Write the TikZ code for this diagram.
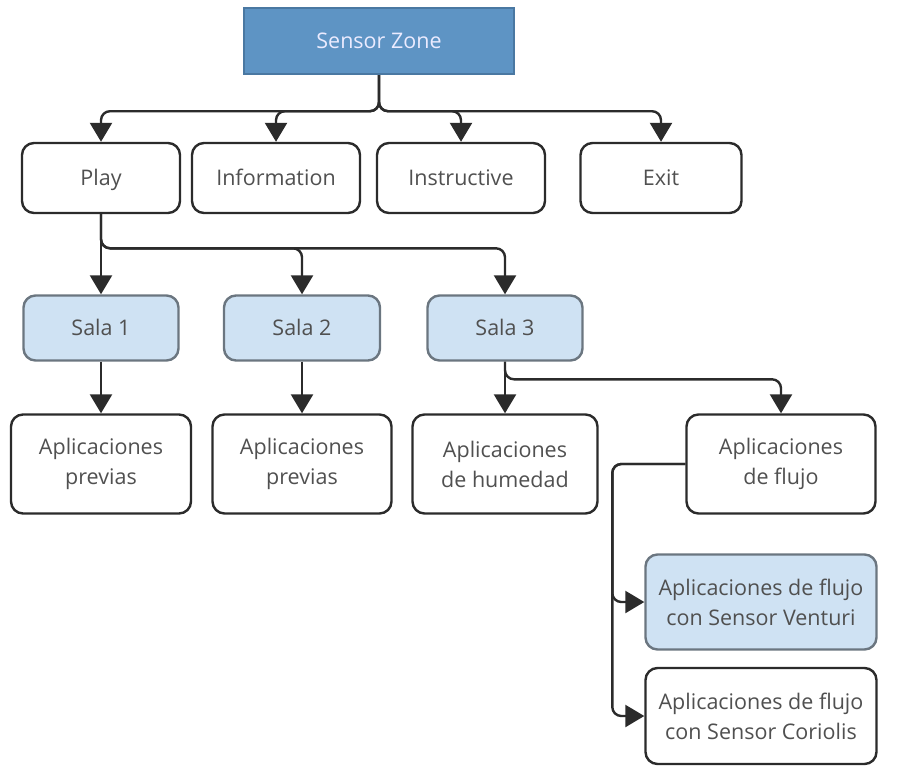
\documentclass[tikz,border=0pt]{standalone}
\usepackage{fontspec}
\setmainfont{Open Sans}
\usetikzlibrary{arrows.meta,calc}
\definecolor{szfill}{HTML}{5E94C4}
\definecolor{szdraw}{HTML}{4A78A2}
\definecolor{lbfill}{HTML}{CFE2F3}
\definecolor{lbdraw}{HTML}{6B7680}
\definecolor{txt}{HTML}{505050}
\definecolor{ln}{HTML}{2B2B2B}
\begin{document}
\begin{tikzpicture}[x=1pt,y=-1pt,
  base/.style={draw=ln,line width=2.4pt,rounded corners=12pt,align=center,
    text=txt,font=\fontsize{21.5}{30}\selectfont,inner sep=0pt},
  wbox/.style={base,fill=white},
  bbox/.style={base,fill=lbfill,draw=lbdraw},
  topbox/.style={base,fill=szfill,draw=szdraw,rounded corners=0pt,text=white!92!blue},
  single/.style={text height=15.5pt,text depth=0pt},
  arr/.style={draw=ln,line width=2.4pt,rounded corners=9pt,-{Triangle[width=22pt,length=19pt]}}]
\useasboundingbox (0,0) rectangle (907,766);
\node[topbox,single,minimum width=270pt,minimum height=66pt] (sz) at (379,41) {Sensor Zone};
\node[wbox,single,minimum width=158pt,minimum height=70pt] (play) at (101,178) {Play};
\node[wbox,single,minimum width=168pt,minimum height=70pt] (info) at (276,178) {Information};
\node[wbox,single,minimum width=168pt,minimum height=70pt] (inst) at (461,178) {Instructive};
\node[wbox,single,minimum width=161pt,minimum height=70pt] (exit) at (661,178) {Exit};
\node[bbox,single,minimum width=155pt,minimum height=65pt] (s1) at (101,328) {Sala 1};
\node[bbox,single,minimum width=156pt,minimum height=65pt] (s2) at (302,328) {Sala 2};
\node[bbox,single,minimum width=155pt,minimum height=65pt] (s3) at (505,328) {Sala 3};
\node[wbox,minimum width=180pt,minimum height=99pt] (ap1) at (101,464) {Aplicaciones\\previas};
\node[wbox,minimum width=179pt,minimum height=99pt] (ap2) at (302,464) {Aplicaciones\\previas};
\node[wbox,minimum width=185pt,minimum height=99pt] (hum) at (505,464) {Aplicaciones\\de humedad};
\node[wbox,minimum width=189pt,minimum height=99pt] (flu) at (781,464) {Aplicaciones\\de flujo};
\node[bbox,minimum width=231pt,minimum height=95pt] (ven) at (761,602) {Aplicaciones de flujo\\con Sensor Venturi};
\node[wbox,minimum width=231pt,minimum height=96pt] (cor) at (761,716) {Aplicaciones de flujo\\con Sensor Coriolis};
% top level
\coordinate (j1) at ($(sz.south)+(0,36)$);
\foreach \t in {play,info,inst,exit}{
  \draw[arr] (sz.south) -- (j1) -| (\t.north);
}
% play children
\draw[arr] (play.south) -- (s1.north);
\draw[arr] (play.south) |- ($(s2.north)+(0,-46)$) -- (s2.north);
\draw[arr] (play.south) |- ($(s3.north)+(0,-46)$) -- (s3.north);
% sala children
\draw[arr] (s1.south) -- (ap1.north);
\draw[arr] (s2.south) -- (ap2.north);
\draw[arr] (s3.south) -- (hum.north);
\draw[arr] (s3.south) |- ($(flu.north)+(0,-34)$) -- (flu.north);
% flujo children
\draw[arr] (flu.west) -| ($(ven.west)+(-32,0)$) -- (ven.west);
\draw[arr] (flu.west) -| ($(cor.west)+(-32,0)$) -- (cor.west);
\end{tikzpicture}
\end{document}
